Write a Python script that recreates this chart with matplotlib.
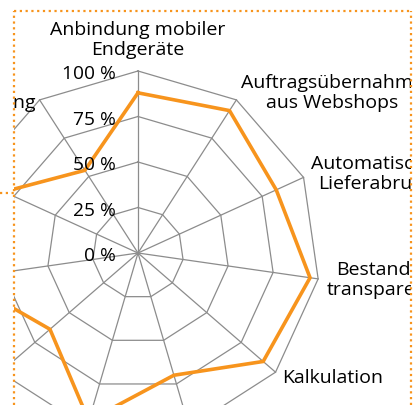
import matplotlib.pyplot as plt
import numpy as np
from matplotlib.lines import Line2D
from matplotlib.patches import Rectangle

categories = [
    "Anbindung mobiler\nEndgeräte",
    "Auftragsübernahme\naus Webshops",
    "Automatische\nLieferabrufe",
    "Bestands-\ntransparenz",
    "Kalkulation",
    "Lagerverwaltung",
    "Mehrlager-\nfähigkeit",
    "Produktions-\nplanung",
    "Qualitäts-\nmanagement",
    "Versand-\nabwicklung",
    "Zoll-\nabwicklung",
]
values = [0.88, 0.93, 0.835, 0.955, 0.91, 0.70, 0.96, 0.64, 0.98, 0.81, 0.54]
ring_levels = [0.0, 0.25, 0.5, 0.75, 1.0]
ring_labels = ["0 %", "25 %", "50 %", "75 %", "100 %"]

orange = "#F7941D"
grid_grey = "#8C8C8C"
W, H = 414, 405

plt.rcParams["font.family"] = ["Open Sans", "DejaVu Sans"]

fig = plt.figure(figsize=(W / 100, H / 100), dpi=100)

# chart centre (138, 253) px, 100 % ring at 182 px; axes radius covers r = 1.2
cx, cy, r100, rmax = 138, H - 253, 182, 1.2
rad = r100 * rmax
ax = fig.add_axes([(cx - rad) / W, (cy - rad) / H, 2 * rad / W, 2 * rad / H],
                  projection="polar")
ax.set_theta_zero_location("N")
ax.set_theta_direction(-1)
ax.set_ylim(0, rmax)
ax.grid(False)
ax.set_xticks([])
ax.set_yticks([])
ax.spines["polar"].set_visible(False)
ax.patch.set_visible(False)

n = len(categories)
theta = np.linspace(0, 2 * np.pi, n, endpoint=False)
theta_closed = np.append(theta, theta[0])

# polygon grid
for lvl in ring_levels[1:]:
    ax.plot(theta_closed, [lvl] * (n + 1), color=grid_grey, lw=0.9)
for t in theta:
    ax.plot([t, t], [0, 1.0], color=grid_grey, lw=0.9)

ax.plot(theta_closed, values + values[:1], color=orange, lw=2.6,
        solid_joinstyle="miter")

for lvl, lab in zip(ring_levels, ring_labels):
    ax.annotate(lab, xy=(0, lvl), xytext=(-16, -2.5), textcoords="offset points",
                ha="right", va="center", fontsize=13.8)

for t, lab in zip(theta, categories):
    deg = np.degrees(t)
    if deg < 1:
        ha, va, r = "center", "bottom", 1.065
    elif abs(deg - 180) < 1:
        ha, va, r = "center", "top", 1.065
    elif deg < 180:
        ha, va, r = "left", "center", 1.045
    else:
        ha, va, r = "right", "center", 1.045
    ax.text(t, r, lab, ha=ha, va=va, ma="center", fontsize=14,
            linespacing=1.15)

# chart is cropped to the dotted frame
frame_l, frame_r, frame_t = 14 / W, 411 / W, 1 - 10.5 / H
clip = Rectangle((frame_l, 0), frame_r - frame_l, frame_t,
                 transform=fig.transFigure)
for art in ax.lines + ax.texts:
    art.set_clip_path(clip)
    art.set_clip_on(True)

dots = dict(color=orange, lw=1.6, ls=(0, (1, 1.6)), transform=fig.transFigure)
fig.add_artist(Line2D([frame_l, frame_l], [0, frame_t], **dots))
fig.add_artist(Line2D([frame_r, frame_r], [0, frame_t], **dots))
fig.add_artist(Line2D([frame_l, frame_r], [frame_t, frame_t], **dots))
fig.add_artist(Line2D([0, frame_l], [1 - 192.5 / H, 1 - 192.5 / H], **dots))

fig.savefig("out.png", dpi=100)
